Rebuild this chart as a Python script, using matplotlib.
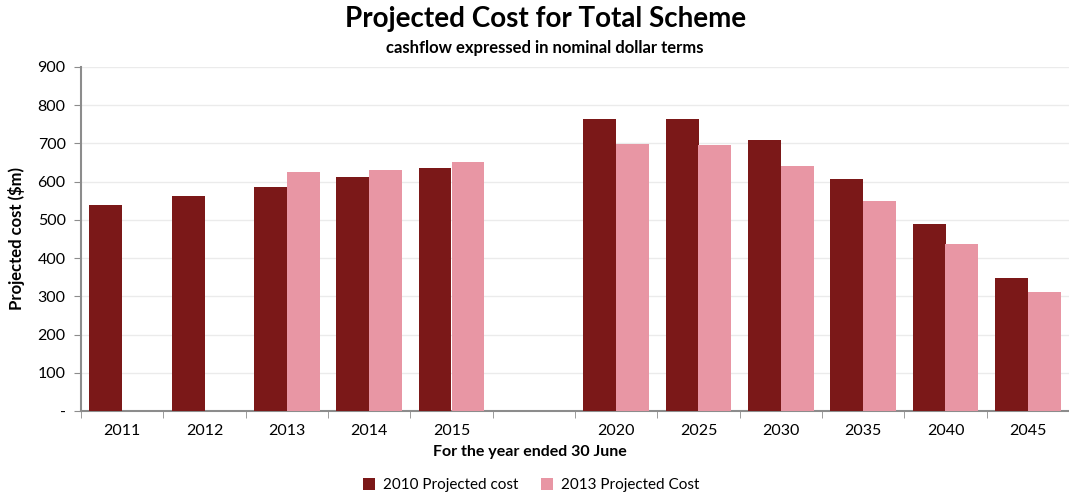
import matplotlib.pyplot as plt
import numpy as np

plt.rcParams['font.family'] = ['Lato', 'DejaVu Sans']

years = ['2011', '2012', '2013', '2014', '2015', '', '2020', '2025', '2030', '2035', '2040', '2045']
cost_2010 = [538, 562, 587, 612, 637, np.nan, 763, 765, 709, 607, 488, 347]
cost_2013 = [np.nan, np.nan, 625, 630, 651, np.nan, 699, 696, 640, 550, 438, 312]

dark = '#7B1818'
pink = '#E896A4'
grey = '#8C8C8C'

fig = plt.figure(figsize=(10.69, 4.98), dpi=100)
ax = fig.add_axes([81 / 1069, 87 / 498, 988 / 1069, 344 / 498])

x = np.arange(len(years))
w = 0.4
ax.bar(x - w / 2, cost_2010, w, color=dark, label='2010 Projected cost', zorder=3)
ax.bar(x + w / 2, cost_2013, w, color=pink, label='2013 Projected Cost', zorder=3)

ax.set_xlim(-0.5, len(years) - 0.5)
ax.set_ylim(0, 900)
ax.set_yticks(range(0, 901, 100))
ax.set_yticklabels(['-'] + [str(v) for v in range(100, 901, 100)])
ax.set_xticks(x)
ax.set_xticklabels(years)
ax.set_xticks(np.arange(-0.5, len(years)), minor=True)
ax.tick_params(axis='x', which='major', length=0, pad=9, labelsize=11.5)
ax.tick_params(axis='x', which='minor', length=5, color=grey, direction='out')
ax.tick_params(axis='y', length=5, color=grey, labelsize=11.5, pad=6)

ax.grid(axis='y', color='#EBEBEB', linewidth=1, zorder=0)
for s in ['top', 'right']:
    ax.spines[s].set_visible(False)
for s in ['left', 'bottom']:
    ax.spines[s].set_color(grey)
    ax.spines[s].set_linewidth(1.5)

ax.set_ylabel('Projected cost ($m)', fontweight='bold', fontsize=12, labelpad=9)

fig.text(0.51, 1 - 19 / 498, 'Projected Cost for Total Scheme', ha='center', va='center',
         fontsize=20, fontweight='bold')
fig.text(0.51, 1 - 48 / 498, 'cashflow expressed in nominal dollar terms', ha='center', va='center',
         fontsize=12, fontweight='bold')
fig.text(530 / 1069, 1 - 452 / 498, 'For the year ended 30 June', ha='center', va='center',
         fontsize=11.5, fontweight='bold')

fig.legend(loc='center', bbox_to_anchor=(531 / 1069, 1 - 485 / 498), ncol=2, frameon=False,
           fontsize=11, handlelength=0.8, handleheight=0.8, columnspacing=1.5,
           handletextpad=0.5)

fig.savefig('out.png', dpi=100)
